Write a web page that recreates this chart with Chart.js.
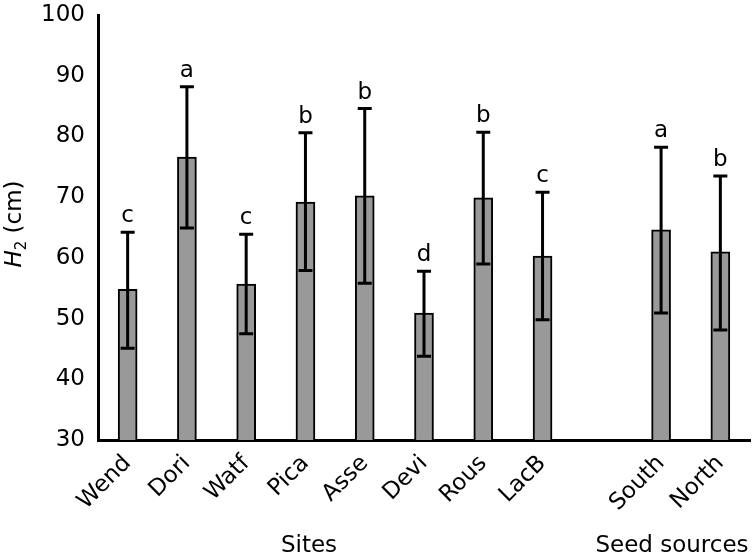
<!DOCTYPE html>
<html>
<head>
<meta charset="utf-8">
<script src="https://cdn.jsdelivr.net/npm/chart.js@4/dist/chart.umd.min.js"></script>
<style>
html,body{margin:0;padding:0;background:#fff;}
#wrap{width:756px;height:560px;position:relative;}
</style>
</head>
<body>
<div id="wrap"><canvas id="c" width="756" height="560"></canvas></div>
<script>
const categories = ["Wend","Dori","Watf","Pica","Asse","Devi","Rous","LacB","","South","North"];
const means      = [54.8, 76.6, 55.7, 69.2, 70.2, 50.9, 69.9, 60.3, null, 64.6, 61.0];
const errUpper   = [64.2, 88.2, 63.9, 80.6, 84.6, 57.8, 80.7, 70.8, null, 78.2, 73.5];
const errLower   = [45.1, 64.9, 47.5, 57.9, 55.8, 43.8, 59.0, 49.8, null, 50.9, 48.1];
const letters    = ["c","a","c","b","b","d","b","c","","a","b"];
const yTicks     = [30,40,50,60,70,80,90,100];
const groupTitles = ["Sites","Seed sources"];

const FONT = "'DejaVu Sans', 'Liberation Sans', Arial, sans-serif";
const FS = 23;

const errPlugin = {
  id: 'errbars',
  afterDatasetsDraw(chart) {
    const ctx = chart.ctx, xs = chart.scales.x, ys = chart.scales.y;
    ctx.save();
    ctx.strokeStyle = '#000';
    ctx.lineWidth = 3;
    ctx.lineCap = 'butt';
    for (let i = 0; i < categories.length; i++) {
      if (means[i] === null) continue;
      const x = xs.getPixelForValue(i);
      const yt = ys.getPixelForValue(errUpper[i]);
      const yb = ys.getPixelForValue(errLower[i]);
      ctx.beginPath();
      ctx.moveTo(x, yt); ctx.lineTo(x, yb);
      ctx.moveTo(x - 7, yt); ctx.lineTo(x + 7, yt);
      ctx.moveTo(x - 7, yb); ctx.lineTo(x + 7, yb);
      ctx.stroke();
      ctx.fillStyle = '#000';
      ctx.font = FS + 'px ' + FONT;
      ctx.textAlign = 'center';
      ctx.textBaseline = 'alphabetic';
      ctx.fillText(letters[i], x, yt - 10);
    }
    ctx.font = FS + 'px ' + FONT;
    ctx.textAlign = 'center';
    ctx.textBaseline = 'alphabetic';
    ctx.fillText(groupTitles[0], 309, 552);
    ctx.fillText(groupTitles[1], 672, 552);
    ctx.save();
    ctx.translate(21, 224);
    ctx.rotate(-Math.PI / 2);
    ctx.textAlign = 'left';
    const parts = [
      {t: 'H', f: 'italic ' + FS + 'px ' + FONT, dy: 0},
      {t: '2', f: '15px ' + FONT, dy: 5},
      {t: ' (cm)', f: FS + 'px ' + FONT, dy: 0}
    ];
    let w = 0;
    parts.forEach(p => { ctx.font = p.f; w += ctx.measureText(p.t).width; });
    let cx = -w / 2;
    parts.forEach(p => { ctx.font = p.f; ctx.fillText(p.t, cx, p.dy); cx += ctx.measureText(p.t).width; });
    ctx.restore();
    ctx.restore();
  }
};

new Chart(document.getElementById('c'), {
  type: 'bar',
  data: {
    labels: categories,
    datasets: [{
      data: means,
      backgroundColor: '#999999',
      borderColor: '#000000',
      borderWidth: 2,
      borderSkipped: false,
      barThickness: 19
    }]
  },
  options: {
    responsive: false,
    animation: false,
    layout: { padding: { left: 0, right: 6, top: 15, bottom: 0 } },
    plugins: { legend: { display: false }, tooltip: { enabled: false } },
    scales: {
      x: {
        grid: { display: false, drawTicks: false },
        border: { display: true, color: '#000', width: 3 },
        ticks: {
          autoSkip: false, minRotation: 45, maxRotation: 45,
          color: '#000', font: { family: FONT, size: FS }, padding: 10
        },
        afterFit(s) { s.height = 120; s.paddingLeft = 0; s.paddingRight = 0; }
      },
      y: {
        min: 30, max: 100,
        afterBuildTicks(s) { s.ticks = yTicks.map(v => ({ value: v })); },
        grid: { display: false, drawTicks: false },
        border: { display: true, color: '#000', width: 3 },
        ticks: { color: '#000', font: { family: FONT, size: FS }, padding: 13 },
        afterFit(s) { s.width = 98; s.paddingTop = 0; s.paddingBottom = 0; }
      }
    }
  },
  plugins: [errPlugin]
});
</script>
</body>
</html>
